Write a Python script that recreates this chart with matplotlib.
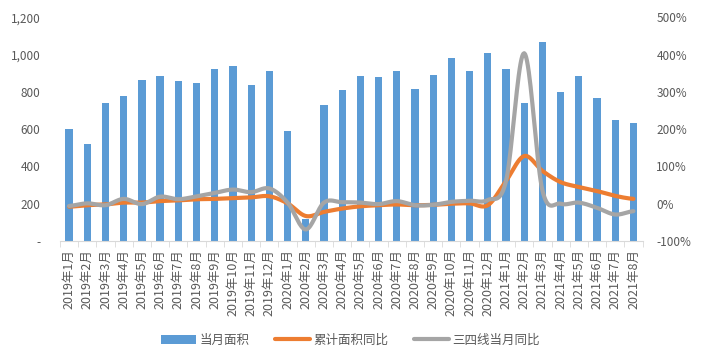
import numpy as np
import matplotlib
matplotlib.use('Agg')
import matplotlib.pyplot as plt
from matplotlib.ticker import FuncFormatter, FixedLocator

plt.rcParams['font.family'] = ['Noto Sans CJK SC', 'DejaVu Sans']

months = ['2019年%d月' % m for m in range(1, 13)] + \
         ['2020年%d月' % m for m in range(1, 13)] + \
         ['2021年%d月' % m for m in range(1, 9)]

# 当月面积
area = [600, 520, 740, 780, 865, 885, 860, 850, 925, 940, 835, 915,
        590, 120, 730, 810, 885, 880, 915, 815, 890, 985, 910, 1010,
        925, 740, 1070, 800, 885, 765, 650, 635]
# 累计面积同比 (%)
cum_yoy = [-8, -4, -2, 3, 3, 7, 9, 12, 13, 15, 17, 20,
           1, -33, -22, -13, -7, -4, -2, -4, -3, 0, 1, -4,
           61, 128, 88, 58, 45, 34, 21, 13]
# 三四线当月同比 (%)
t34_yoy = [-6, 1, -4, 13, -1, 19, 12, 20, 29, 38, 31, 41,
           3, -69, 3, 4, 3, -1, 7, -4, -3, 5, 8, 10,
           61, 404, 36, 0, 3, -11, -29, -20]


def smooth(y, n=20):
    # catmull-rom through the data points, like excel's smoothed line
    y = np.asarray(y, dtype=float)
    p = np.concatenate([[y[0]], y, [y[-1]]])
    xs, ys = [], []
    t = np.linspace(0, 1, n, endpoint=False)
    for i in range(len(y) - 1):
        p0, p1, p2, p3 = p[i], p[i + 1], p[i + 2], p[i + 3]
        seg = 0.5 * (2 * p1 + (-p0 + p2) * t + (2 * p0 - 5 * p1 + 4 * p2 - p3) * t ** 2
                     + (-p0 + 3 * p1 - 3 * p2 + p3) * t ** 3)
        xs.extend(i + t)
        ys.extend(seg)
    xs.append(len(y) - 1)
    ys.append(y[-1])
    return np.array(xs), np.array(ys)


x = np.arange(len(months))
txt = '#595959'

fig = plt.figure(figsize=(7.01, 3.64), dpi=100)
ax = fig.add_axes([0.0856, 0.338, 0.831, 0.614])
ax2 = ax.twinx()

bars = ax.bar(x, area, width=0.4, color='#5B9BD5', label='当月面积', zorder=2)
ax.set_xlim(-0.5, len(months) - 0.5)
ax.set_ylim(0, 1200)
ax.set_yticks(range(0, 1201, 200))
ax.yaxis.set_major_formatter(FuncFormatter(lambda v, p: '-' if v == 0 else '{:,.0f}'.format(v)))

sx, sy = smooth(cum_yoy)
l1, = ax2.plot(sx, sy, color='#ED7D31', lw=3, solid_capstyle='round', label='累计面积同比')
sx, sy = smooth(t34_yoy)
l2, = ax2.plot(sx, sy, color='#A5A5A5', lw=3, solid_capstyle='round', label='三四线当月同比')
ax2.set_ylim(-100, 500)
ax2.set_yticks(range(-100, 501, 100))
ax2.yaxis.set_major_formatter(FuncFormatter(lambda v, p: '%d%%' % v))

for a in (ax, ax2):
    for s in a.spines.values():
        s.set_visible(False)
    a.tick_params(axis='y', length=0, labelsize=8.5, labelcolor=txt)
ax.tick_params(axis='y', pad=14)
ax2.tick_params(axis='y', pad=10)

ax.spines['bottom'].set_visible(True)
ax.spines['bottom'].set_color('#D9D9D9')
ax.set_xticks(x)
ax.set_xticklabels(months, rotation=90, fontsize=9, color=txt)
ax.tick_params(axis='x', which='major', length=0, pad=6)
ax.xaxis.set_minor_locator(FixedLocator(np.arange(-0.5, len(months), 1)))
ax.tick_params(axis='x', which='minor', length=4, color='#D9D9D9')

fig.legend(handles=[bars, l1, l2], loc='center', bbox_to_anchor=(0.5, 0.065), ncol=3,
           frameon=False, fontsize=9, labelcolor=txt, handlelength=2.8,
           columnspacing=2.0, handletextpad=0.3)

fig.savefig('out.png', dpi=100)
